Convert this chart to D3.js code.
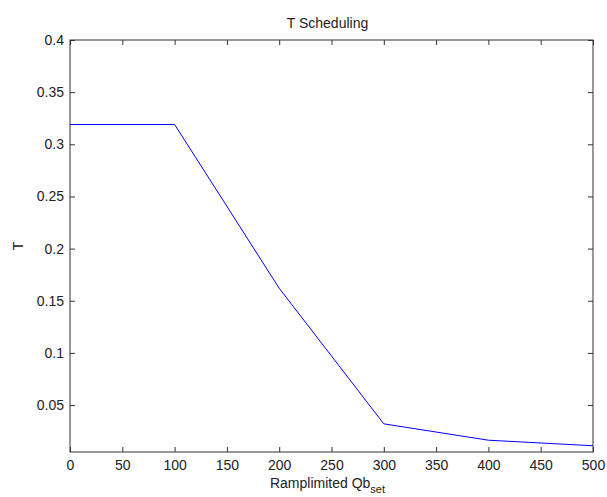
<!doctype html>
<html>
<head>
    <script src="https://d3js.org/d3.v7.min.js"></script>
    <style>
        body { margin: 0; background: #fff; }
        text { font-family: "Liberation Sans", Arial, sans-serif; fill: #222; }
    </style>
</head>
<body>
    <svg width="607" height="497"></svg>
    <script>
        var xValues = [0, 100, 200, 300, 400, 500];
        var tValues = [0.319, 0.319, 0.162, 0.032, 0.0163, 0.011];
        var xTicks = [0, 50, 100, 150, 200, 250, 300, 350, 400, 450, 500];
        var yTicks = [0.05, 0.1, 0.15, 0.2, 0.25, 0.3, 0.35, 0.4];

        var svg = d3.select("svg");
        var plotL = 70, plotT = 40, plotR = 593, plotB = 452;

        var x = d3.scaleLinear().domain([0, 500]).range([plotL, plotR]);
        var y = d3.scaleLinear().domain([0.005, 0.4]).range([plotB, plotT]);

        var axisColor = "#333";

        // ticks pointing inward on all four sides
        function styleAxis(g) {
            g.select(".domain").remove();
            g.selectAll(".tick line").attr("stroke", axisColor);
            g.selectAll(".tick text").attr("font-size", "14px").attr("fill", "#222");
        }

        svg.append("g")
            .attr("transform", "translate(0," + plotB + ")")
            .call(d3.axisBottom(x).tickValues(xTicks).tickSizeInner(-5).tickPadding(8).tickFormat(d3.format("d")))
            .call(styleAxis);

        svg.append("g")
            .attr("transform", "translate(0," + plotT + ")")
            .call(d3.axisTop(x).tickValues(xTicks).tickSizeInner(-5).tickFormat(""))
            .call(styleAxis);

        svg.append("g")
            .attr("transform", "translate(" + plotL + ",0)")
            .call(d3.axisLeft(y).tickValues(yTicks).tickSizeInner(-5).tickPadding(6).tickFormat(function(d) { return +d.toFixed(2) + ""; }))
            .call(styleAxis);

        svg.append("g")
            .attr("transform", "translate(" + plotR + ",0)")
            .call(d3.axisRight(y).tickValues(yTicks).tickSizeInner(-5).tickFormat(""))
            .call(styleAxis);

        svg.append("rect")
            .attr("x", plotL).attr("y", plotT)
            .attr("width", plotR - plotL).attr("height", plotB - plotT)
            .attr("fill", "none").attr("stroke", axisColor).attr("stroke-width", 1);

        var line = d3.line()
            .x(function(d, i) { return x(xValues[i]); })
            .y(function(d) { return y(d); });

        svg.append("path")
            .datum(tValues)
            .attr("d", line)
            .attr("fill", "none")
            .attr("stroke", "#0000ff")
            .attr("stroke-width", 1);

        svg.append("text")
            .attr("x", (plotL + plotR) / 2 - 4)
            .attr("y", 28)
            .attr("text-anchor", "middle")
            .attr("font-size", "14px")
            .text("T Scheduling");

        var xl = svg.append("text")
            .attr("x", (plotL + plotR) / 2 - 4)
            .attr("y", 488)
            .attr("text-anchor", "middle")
            .attr("font-size", "14px");
        xl.append("tspan").text("Ramplimited Qb");
        xl.append("tspan").attr("font-size", "11px").attr("dy", 5).text("set");

        svg.append("text")
            .attr("transform", "translate(23," + ((plotT + plotB) / 2) + ") rotate(-90)")
            .attr("text-anchor", "middle")
            .attr("font-size", "14px")
            .text("T");
    </script>
</body>
</html>
